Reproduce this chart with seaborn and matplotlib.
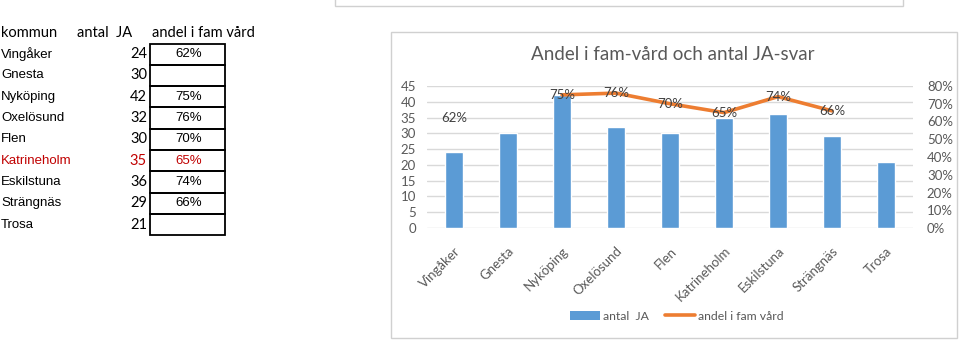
import numpy as np
import pandas as pd
import matplotlib
matplotlib.use("Agg")
import matplotlib.pyplot as plt
from matplotlib.patches import Rectangle, Patch
from matplotlib.lines import Line2D
import seaborn as sns

kommuner = ["Vingåker", "Gnesta", "Nyköping", "Oxelösund", "Flen",
            "Katrineholm", "Eskilstuna", "Strängnäs", "Trosa"]
antal_ja = [24, 30, 42, 32, 30, 35, 36, 29, 21]
andel = [0.62, np.nan, 0.75, 0.76, 0.70, 0.65, 0.74, 0.66, np.nan]
andel_text = ["62%", "", "75%", "76%", "70%", "65%", "74%", "66%", ""]
left_ticks = [0, 5, 10, 15, 20, 25, 30, 35, 40, 45]
right_ticks = [0.0, 0.1, 0.2, 0.3, 0.4, 0.5, 0.6, 0.7, 0.8]

sns.set_theme(style="white")
plt.rcParams['font.family'] = ['Lato', 'DejaVu Sans']

W, H = 960, 340
fig = plt.figure(figsize=(9.6, 3.4), dpi=100)

# overlay for table and frames (pixel coords, y downward)
ov = fig.add_axes([0, 0, 1, 1])
ov.set_xlim(0, W)
ov.set_ylim(H, 0)
ov.axis("off")

# top partial frame of another chart
ov.add_patch(Rectangle((335, -5), 568, 11, fill=False, ec="#D0D0D0", lw=1))
# chart frame
ov.add_patch(Rectangle((391, 32), 566, 306, fill=False, ec="#D0D0D0", lw=1))

# table
hdr_y = 33
ov.text(1, hdr_y, "kommun", fontsize=10.5, va="center", ha="left", color="black")
ov.text(77, hdr_y, "antal  JA", fontsize=10.5, va="center", ha="left", color="black")
ov.text(152, hdr_y, "andel i fam vård", fontsize=10.5, va="center", ha="left", color="black")
row_top = 43.5
row_h = 21.3
for i, (k, n, p) in enumerate(zip(kommuner, antal_ja, andel_text)):
    yc = row_top + row_h * (i + 0.5)
    col = "#C00000" if k == "Katrineholm" else "black"
    ov.text(1, yc, k, fontsize=9.5, va="center", ha="left", color=col,
            family=["Liberation Sans", "DejaVu Sans"])
    ov.text(147, yc, str(n), fontsize=10.5, va="center", ha="right", color=col)
    ov.text(189, yc, p, fontsize=9.5, va="center", ha="center", color=col,
            family=["Liberation Sans", "DejaVu Sans"])
    ov.add_patch(Rectangle((150, row_top + row_h * i), 75, row_h, fill=False,
                           ec="black", lw=1.3))

# chart
ax = fig.add_axes([427 / W, (H - 228) / H, (913 - 427) / W, (228 - 86) / H])
df = pd.DataFrame({"kommun": kommuner, "antal": antal_ja})
sns.barplot(data=df, x="kommun", y="antal", ax=ax, color="#5B9BD5",
            saturation=1, width=0.34, zorder=2)
ax.set_ylim(0, 45)
ax.set_xlim(-0.5, len(kommuner) - 0.5)
ax.set_yticks(left_ticks)
ax.grid(axis="y", color="#D9D9D9", lw=1, zorder=0)
ax.set_axisbelow(True)
for s in ax.spines.values():
    s.set_visible(False)
ax.set_xlabel("")
ax.set_ylabel("")
ax.tick_params(axis="y", labelsize=9.5, labelcolor="#595959", length=0, pad=8)
ax.tick_params(axis="x", labelsize=9.5, labelcolor="#595959", length=0, pad=12)
ax.set_xticks(range(len(kommuner)))
ax.set_xticklabels(kommuner, rotation=45, ha="right", rotation_mode="anchor")

ax2 = ax.twinx()
x = np.arange(len(kommuner))
ax2.plot(x, andel, color="#ED7D31", lw=2.6, solid_capstyle="round", zorder=3)
ax2.set_ylim(0, 0.8)
ax2.set_yticks(right_ticks)
ax2.set_yticklabels([f"{int(round(v * 100))}%" for v in right_ticks])
ax2.tick_params(axis="y", labelsize=9.5, labelcolor="#595959", length=0, pad=10)
for s in ax2.spines.values():
    s.set_visible(False)
ax2.grid(False)
for xi, v, t in zip(x, andel, andel_text):
    if t:
        ax2.text(xi, v, t, ha="center", va="center", fontsize=9.5, color="#404040", zorder=4)

fig.text(673 / W, 1 - 55 / H, "Andel i fam-vård och antal JA-svar",
         ha="center", va="center", fontsize=13.5, color="#595959")

handles = [Patch(facecolor="#5B9BD5", edgecolor="none", label="antal  JA"),
           Line2D([0], [0], color="#ED7D31", lw=2.6, label="andel i fam vård")]
fig.legend(handles=handles, loc="center", bbox_to_anchor=(677 / W, 1 - 316 / H),
           ncol=2, frameon=False, fontsize=8.8, labelcolor="#595959",
           handlelength=2.45, handleheight=0.7, columnspacing=1.3, handletextpad=0.25)

fig.savefig("out.png", dpi=100)
